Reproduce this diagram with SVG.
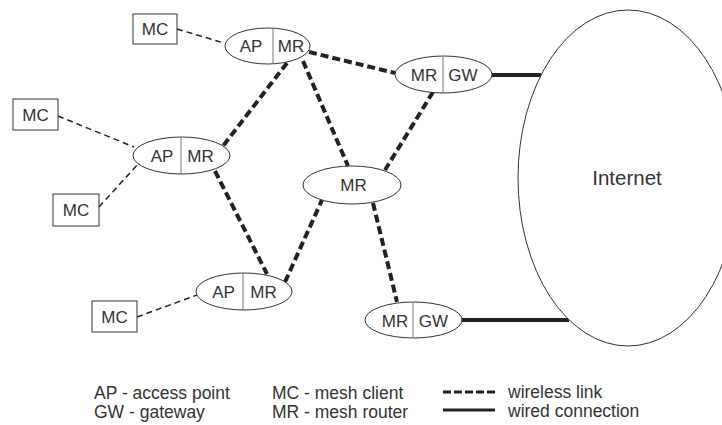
<svg xmlns="http://www.w3.org/2000/svg" width="722" height="425" viewBox="0 0 722 425">
<style>
.n{fill:#fff;stroke:#333;stroke-width:1}
.d{stroke:#777;stroke-width:1}
.t{font-family:"Liberation Sans",Arial,sans-serif;font-size:17px;fill:#333}
.big{font-size:20.5px}
.lg{font-size:17.5px}
.thin{stroke:#222;stroke-width:1.5;stroke-dasharray:6 4;fill:none}
.thick{stroke:#222;stroke-width:4;stroke-dasharray:8 4;fill:none}
.wire{stroke:#222;stroke-width:4;fill:none}
</style>
<rect width="722" height="425" fill="#fff"/>
<g id="connectors">
<line class="thin" x1="177" y1="29" x2="224" y2="43"/>
<line class="thin" x1="58" y1="116" x2="134" y2="147"/>
<line class="thin" x1="99" y1="207" x2="138" y2="164"/>
<line class="thin" x1="137" y1="317" x2="197" y2="295"/>
<line class="thick" x1="287" y1="63" x2="223" y2="146"/>
<line class="thick" x1="309" y1="52" x2="395" y2="73"/>
<line class="thick" x1="303" y1="61" x2="348" y2="166"/>
<line class="thick" x1="433" y1="92" x2="385" y2="170"/>
<line class="thick" x1="215" y1="171" x2="267" y2="274"/>
<line class="thick" x1="285" y1="282" x2="322" y2="200"/>
<line class="thick" x1="373" y1="203" x2="397" y2="302"/>
<line class="wire" x1="492" y1="75" x2="541" y2="75"/>
<line class="wire" x1="462" y1="320" x2="569" y2="320"/>
</g>
<g id="internet">
<ellipse class="n" cx="628" cy="178" rx="110" ry="168"/>
<text class="t big" x="627" y="185" text-anchor="middle">Internet</text>
</g>
<g id="mc1">
<rect class="n" x="133" y="14" width="44" height="30"/>
<text class="t" x="155" y="35" text-anchor="middle">MC</text>
</g>
<g id="mc2">
<rect class="n" x="13" y="99" width="45" height="31"/>
<text class="t" x="35.5" y="121" text-anchor="middle">MC</text>
</g>
<g id="mc3">
<rect class="n" x="53" y="194" width="46" height="32"/>
<text class="t" x="76" y="216" text-anchor="middle">MC</text>
</g>
<g id="mc4">
<rect class="n" x="92" y="301" width="45" height="31"/>
<text class="t" x="114.5" y="323" text-anchor="middle">MC</text>
</g>
<g id="apmr1">
<ellipse class="n" cx="267.5" cy="46" rx="42.5" ry="18"/>
<line class="d" x1="273" y1="28.2" x2="273" y2="63.8"/>
<text class="t" x="251" y="52" text-anchor="middle">AP</text>
<text class="t" x="291" y="52" text-anchor="middle">MR</text>
</g>
<g id="apmr2">
<ellipse class="n" cx="181.5" cy="155.5" rx="48.5" ry="18.5"/>
<line class="d" x1="181" y1="137" x2="181" y2="174"/>
<text class="t" x="162" y="162" text-anchor="middle">AP</text>
<text class="t" x="200.5" y="162" text-anchor="middle">MR</text>
</g>
<g id="apmr3">
<ellipse class="n" cx="244" cy="291.5" rx="48" ry="18.5"/>
<line class="d" x1="243" y1="273" x2="243" y2="310"/>
<text class="t" x="223.5" y="298" text-anchor="middle">AP</text>
<text class="t" x="263.5" y="298" text-anchor="middle">MR</text>
</g>
<g id="mrgw1">
<ellipse class="n" cx="443.5" cy="74.5" rx="48.5" ry="18.5"/>
<line class="d" x1="443" y1="56" x2="443" y2="93"/>
<text class="t" x="424" y="81" text-anchor="middle">MR</text>
<text class="t" x="463" y="81" text-anchor="middle">GW</text>
</g>
<g id="mr">
<ellipse class="n" cx="352" cy="185" rx="49" ry="19"/>
<text class="t" x="353.5" y="191" text-anchor="middle">MR</text>
</g>
<g id="mrgw2">
<ellipse class="n" cx="413.5" cy="320" rx="48.5" ry="18"/>
<line class="d" x1="413" y1="302" x2="413" y2="338"/>
<text class="t" x="395" y="326.5" text-anchor="middle">MR</text>
<text class="t" x="433.5" y="326.5" text-anchor="middle">GW</text>
</g>
<g id="legend">
<text class="t lg" x="94" y="399">AP - access point</text>
<text class="t lg" x="94" y="418">GW - gateway</text>
<text class="t lg" x="272" y="399">MC - mesh client</text>
<text class="t lg" x="272" y="418">MR - mesh router</text>
<line x1="443" y1="392" x2="495" y2="392" stroke="#222" stroke-width="3" stroke-dasharray="8 3"/>
<line x1="443" y1="410" x2="495" y2="410" stroke="#222" stroke-width="3"/>
<text class="t lg" x="508" y="398">wireless link</text>
<text class="t lg" x="508" y="417">wired connection</text>
</g>
</svg>
